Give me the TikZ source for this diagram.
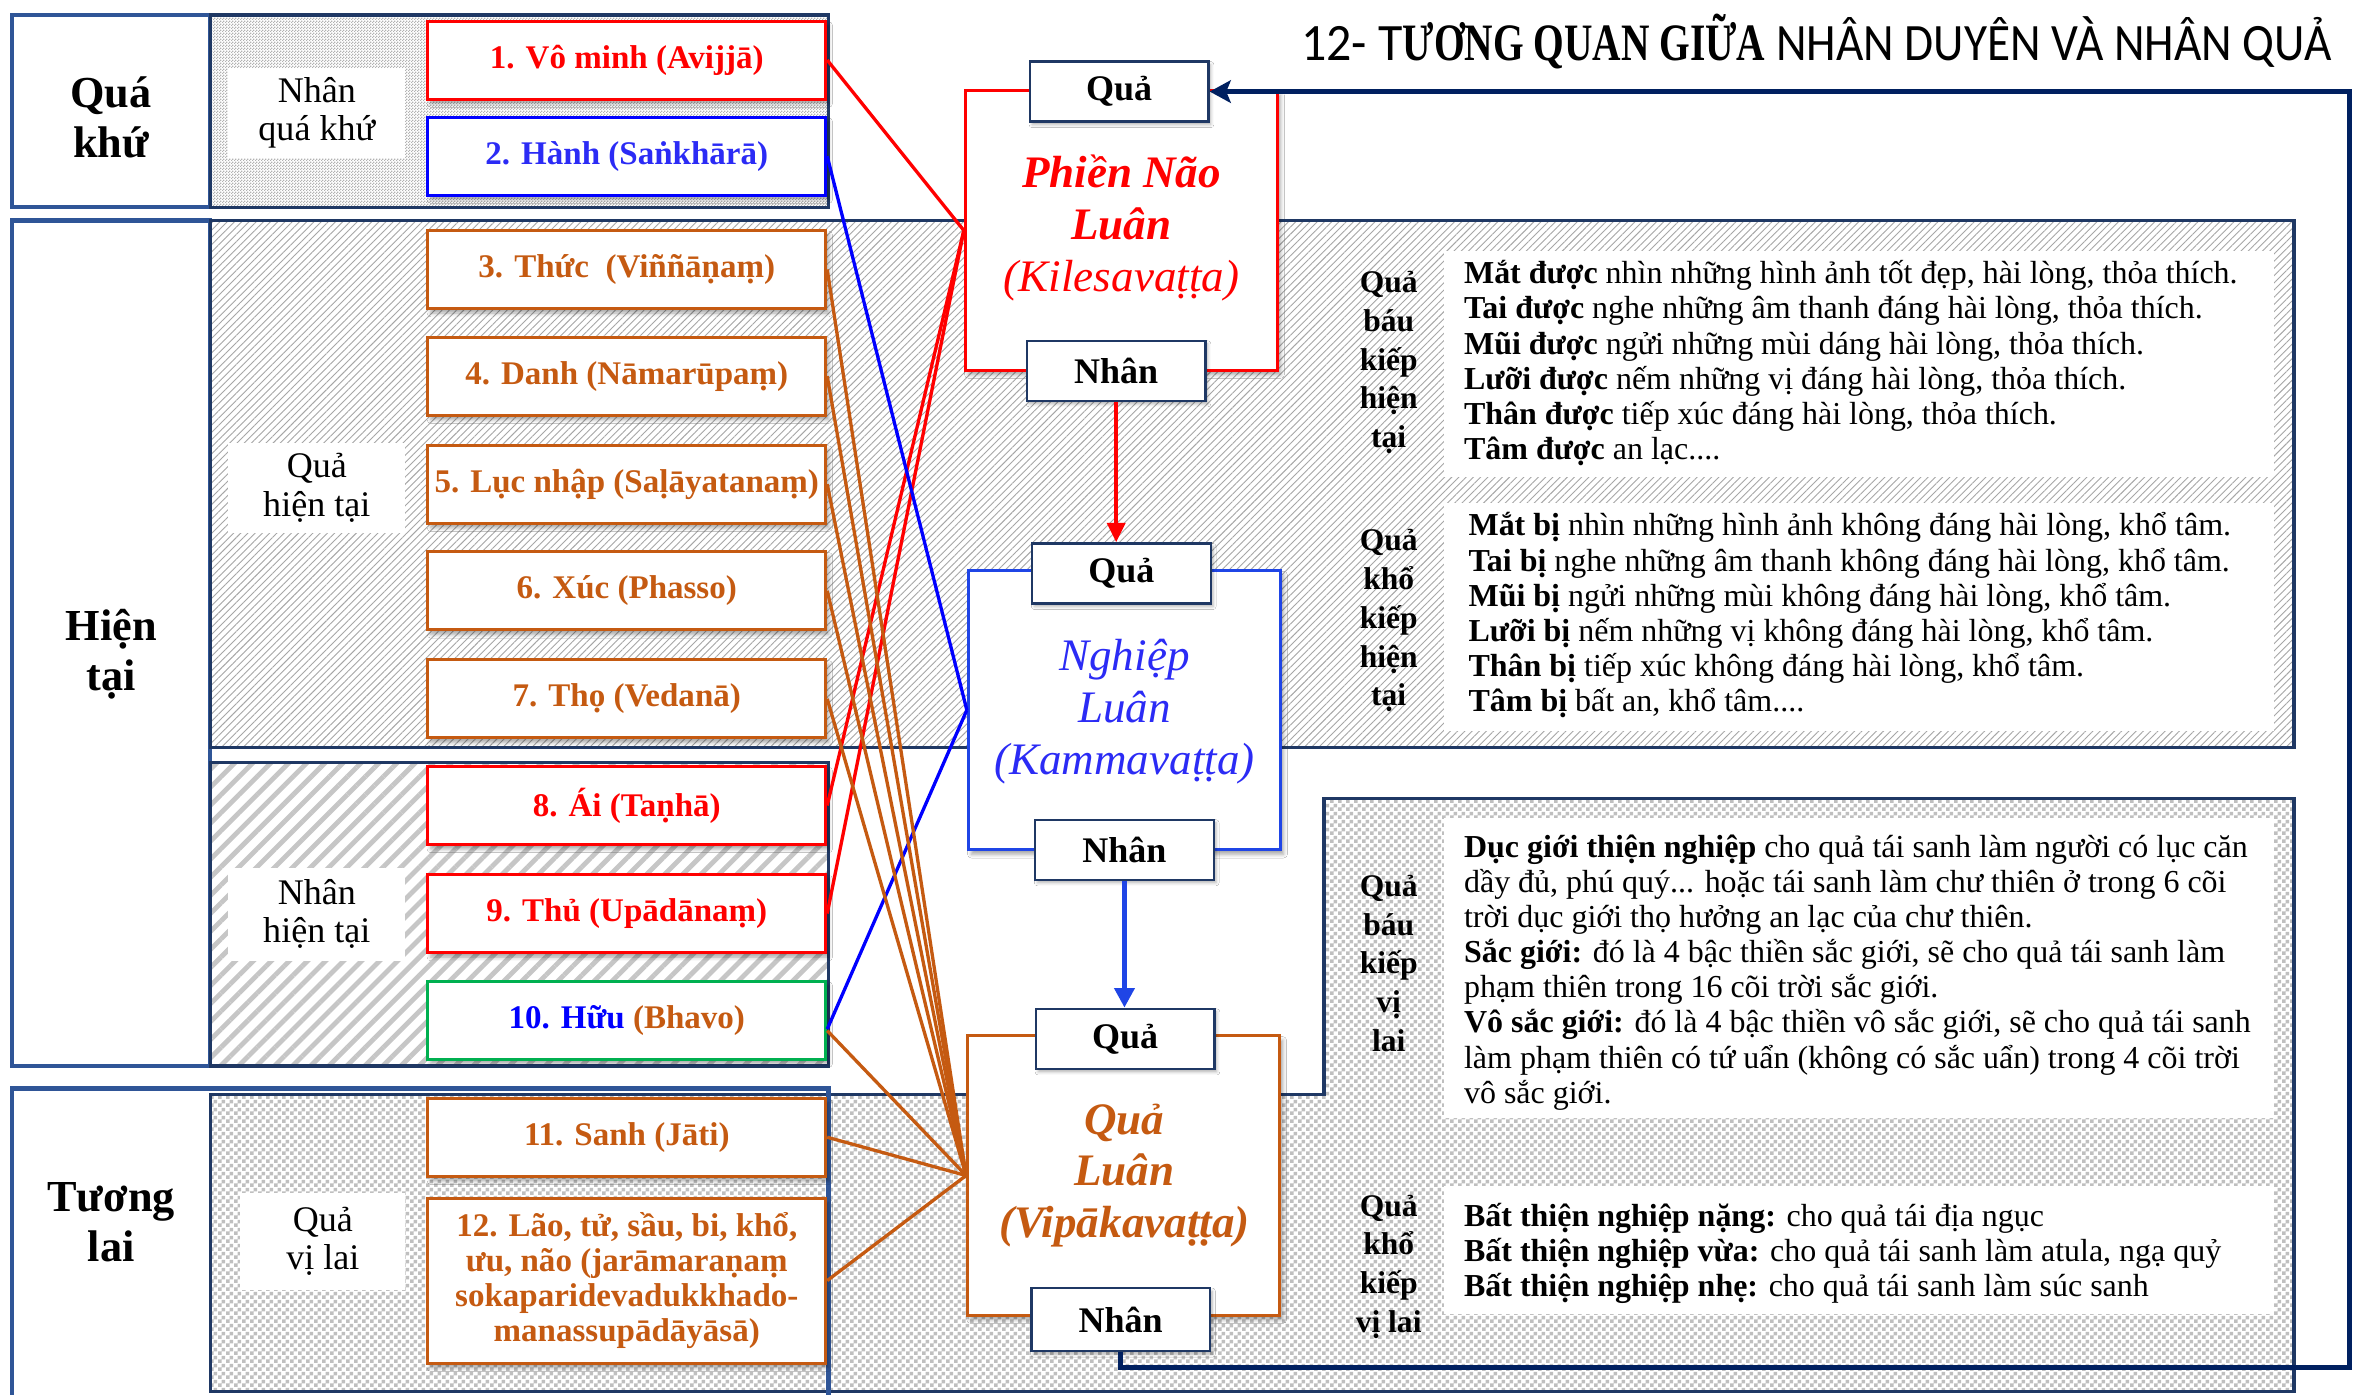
\documentclass[tikz,border=0pt]{standalone}
\usepackage{fontspec}
\setmainfont{Liberation Serif}
\newfontfamily\titlesans{Carlito}
\usetikzlibrary{patterns,patterns.meta,shadows.blur,arrows.meta}

\definecolor{navy}{HTML}{1F3864}
\definecolor{loopnavy}{HTML}{002060}
\definecolor{frameblue}{HTML}{2F5597}
\definecolor{kred}{HTML}{FF0000}
\definecolor{kblue}{HTML}{0000FF}
\definecolor{textblue}{HTML}{2B2BF5}
\definecolor{wheelblue}{HTML}{1F45E6}
\definecolor{korange}{HTML}{C55A11}
\definecolor{kgreen}{HTML}{00B050}

% small and large checker fills
\pgfdeclarepatternformonly{finechecks}{\pgfqpoint{0pt}{0pt}}{\pgfqpoint{2pt}{2pt}}{\pgfqpoint{2pt}{2pt}}{%
  \pgfpathrectangle{\pgfqpoint{0pt}{0pt}}{\pgfqpoint{1pt}{1pt}}%
  \pgfpathrectangle{\pgfqpoint{1pt}{1pt}}{\pgfqpoint{1pt}{1pt}}%
  \pgfusepath{fill}}
\pgfdeclarepatternformonly{coarsechecks}{\pgfqpoint{0pt}{0pt}}{\pgfqpoint{5pt}{5pt}}{\pgfqpoint{5pt}{5pt}}{%
  \pgfpathrectangle{\pgfqpoint{0pt}{0pt}}{\pgfqpoint{2.5pt}{2.5pt}}%
  \pgfpathrectangle{\pgfqpoint{2.5pt}{2.5pt}}{\pgfqpoint{2.5pt}{2.5pt}}%
  \pgfusepath{fill}}

% stacked lines with fixed line pitch; baseline = first line's baseline
\newcommand{\lstack}[1]{\vtop{\lineskiplimit=-1000pt\halign{##\hfil\cr#1\crcr}}}
\newcommand{\cstack}[1]{\vtop{\lineskiplimit=-1000pt\halign{\hfil##\hfil\cr#1\crcr}}}

\tikzset{
  periodframe/.style={draw=frameblue, line width=3pt},
  region/.style={draw=navy, line width=2.2pt},
  periodlabel/.style={align=center, font=\bfseries\fontsize{29.5}{33.5}\selectfont},
  labelbox/.style={fill=white, inner sep=0pt, align=center, font=\fontsize{24}{25.5}\selectfont},
  termbox/.style={draw, line width=2pt, fill=white, minimum width=265pt, minimum height=52pt,
    inner sep=0pt, align=center, font=\bfseries\fontsize{22}{23.5}\selectfont,
    blur shadow={shadow xshift=2pt, shadow yshift=-3pt, shadow blur radius=2.5pt, shadow opacity=35}},
  wheel/.style={draw, line width=2pt, fill=white, minimum width=208pt, minimum height=186pt, inner sep=0pt,
    blur shadow={shadow xshift=2pt, shadow yshift=-3pt, shadow blur radius=2.5pt, shadow opacity=35}},
  wheeltext/.style={align=center, inner sep=0pt, font=\itshape\fontsize{30}{34.5}\selectfont},
  tagbox/.style={draw=navy, line width=1.6pt, fill=white, minimum width=119pt, minimum height=40pt, inner sep=0pt,
    font=\bfseries\fontsize{24}{24}\selectfont,
    blur shadow={shadow xshift=1.5pt, shadow yshift=-2pt, shadow blur radius=2pt, shadow opacity=30}},
  sidelabel/.style={anchor=base, inner sep=0pt, font=\bfseries\fontsize{21}{25.8}\selectfont},
  paneltext/.style={anchor=base west, inner sep=0pt, font=\fontsize{21.3}{23.4}\selectfont},
  link/.style={line width=2.2pt},
  feedback/.style={draw=loopnavy, line width=3.5pt, -{Stealth[length=14pt,width=15pt,inset=3pt]}},
}

\begin{document}
\begin{tikzpicture}[x=1pt, y=-1pt]
\useasboundingbox (0,0) rectangle (1568,929);
\fill[white] (0,0) rectangle (1568,929);

% time frames: past and present
\draw[periodframe] (8,10) rectangle (140,138);
\draw[periodframe] (8,147) rectangle (140,710);

% shaded regions
\draw[region, pattern=finechecks, pattern color=gray!60] (140,10) rectangle (552,138);
\draw[region, pattern={Lines[angle=45,distance=3.4pt,line width=0.6pt]}, pattern color=gray!70]
  (140,147) rectangle (1528,498);
\draw[region, pattern={Lines[angle=45,distance=8.5pt,line width=3.2pt]}, pattern color=gray!45]
  (140,508) rectangle (552,710);
\draw[region, pattern=coarsechecks, pattern color=gray!50]
  (140,729) -- (882,729) -- (882,532) -- (1528,532) -- (1528,927) -- (140,927) -- cycle;

% time frame: future
\draw[periodframe] (8,940) -- (8,725) -- (552,725) -- (552,940);

% period names
\node[periodlabel] (pastlbl) at (74,78) {Quá\\khứ};
\node[periodlabel] (presentlbl) at (74,436) {Hiện\\tại};
\node[periodlabel] (futurelbl) at (74,814) {Tương\\lai};

% group labels
\node[labelbox, minimum width=118pt, minimum height=60pt] (grp1) at (211,75) {Nhân\\quá khứ};
\node[labelbox, minimum width=118pt, minimum height=60pt] (grp2) at (211,325) {Quả\\hiện tại};
\node[labelbox, minimum width=118pt, minimum height=62pt] (grp3) at (211,609) {Nhân\\hiện tại};
\node[labelbox, minimum width=110pt, minimum height=65pt] (grp4) at (215,827) {Quả\\vị lai};

% result panels on the right
\fill[white] (962,167) rectangle (1515,318);
\fill[white] (962,335) rectangle (1515,487);
\fill[white] (962,545) rectangle (1515,745);
\fill[white] (962,790) rectangle (1515,875);

\node[sidelabel] (side1) at (925,195) {\cstack{Quả\cr báu\cr kiếp\cr hiện\cr tại}};
\node[sidelabel] (side2) at (925,367) {\cstack{Quả\cr khổ\cr kiếp\cr hiện\cr tại}};
\node[sidelabel] (side3) at (925,597) {\cstack{Quả\cr báu\cr kiếp\cr vị\cr lai}};
\node[sidelabel] (side4) at (925,810) {\cstack{Quả\cr khổ\cr kiếp\cr vị lai}};

\node[paneltext] (text1) at (975,189) {\lstack{%
\textbf{Mắt được} nhìn những hình ảnh tốt đẹp, hài lòng, thỏa thích.\cr
\textbf{Tai được} nghe những âm thanh đáng hài lòng, thỏa thích.\cr
\textbf{Mũi được} ngửi những mùi dáng hài lòng, thỏa thích.\cr
\textbf{Lưỡi được} nếm những vị đáng hài lòng, thỏa thích.\cr
\textbf{Thân được} tiếp xúc đáng hài lòng, thỏa thích.\cr
\textbf{Tâm được} an lạc....}};
\node[paneltext] (text2) at (978,357) {\lstack{%
\textbf{Mắt bị} nhìn những hình ảnh không đáng hài lòng, khổ tâm.\cr
\textbf{Tai bị} nghe những âm thanh không đáng hài lòng, khổ tâm.\cr
\textbf{Mũi bị} ngửi những mùi không đáng hài lòng, khổ tâm.\cr
\textbf{Lưỡi bị} nếm những vị không đáng hài lòng, khổ tâm.\cr
\textbf{Thân bị} tiếp xúc không đáng hài lòng, khổ tâm.\cr
\textbf{Tâm bị} bất an, khổ tâm....}};
\node[paneltext] (text3) at (975,571) {\lstack{%
\textbf{Dục giới thiện nghiệp} cho quả tái sanh làm người có lục căn\cr
dầy đủ, phú quý... hoặc tái sanh làm chư thiên ở trong 6 cõi\cr
trời dục giới thọ hưởng an lạc của chư thiên.\cr
\textbf{Sắc giới:} đó là 4 bậc thiền sắc giới, sẽ cho quả tái sanh làm\cr
phạm thiên trong 16 cõi trời sắc giới.\cr
\textbf{Vô sắc giới:} đó là 4 bậc thiền vô sắc giới, sẽ cho quả tái sanh\cr
làm phạm thiên có tứ uẩn (không có sắc uẩn) trong 4 cõi trời\cr
vô sắc giới.}};
\node[paneltext] (text4) at (975,817) {\lstack{%
\textbf{Bất thiện nghiệp nặng:} cho quả tái địa ngục\cr
\textbf{Bất thiện nghiệp vừa:} cho quả tái sanh làm atula, ngạ quỷ\cr
\textbf{Bất thiện nghiệp nhẹ:} cho quả tái sanh làm súc sanh}};

% the twelve links
\node[termbox, draw=kred, text=kred] (b1) at (417.5,40) {1. Vô minh (Avijjā)};
\node[termbox, draw=kblue, text=textblue] (b2) at (417.5,104) {2. Hành (Saṅkhārā)};
\node[termbox, draw=korange, text=korange] (b3) at (417.5,179.5) {3. Thức~ (Viññāṇaṃ)};
\node[termbox, draw=korange, text=korange] (b4) at (417.5,250.5) {4. Danh (Nāmarūpaṃ)};
\node[termbox, draw=korange, text=korange] (b5) at (417.5,322.5) {5. Lục nhập (Saḷāyatanaṃ)};
\node[termbox, draw=korange, text=korange] (b6) at (417.5,393.5) {6. Xúc (Phasso)};
\node[termbox, draw=korange, text=korange] (b7) at (417.5,465.5) {7. Thọ (Vedanā)};
\node[termbox, draw=kred, text=kred] (b8) at (417.5,536.5) {8. Ái (Taṇhā)};
\node[termbox, draw=kred, text=kred] (b9) at (417.5,608.5) {9. Thủ (Upādānaṃ)};
\node[termbox, draw=kgreen, text=korange] (b10) at (417.5,679.5) {\textcolor{kblue}{10. Hữu} (Bhavo)};
\node[termbox, draw=korange, text=korange] (b11) at (417.5,757.5) {11. Sanh (Jāti)};
\node[termbox, draw=korange, text=korange, minimum height=110pt] (b12) at (417.5,853)
  {12. Lão, tử, sầu, bi, khổ,\\ưu, não (jarāmaraṇaṃ\\sokaparidevadukkhado-\\manassupādāyāsā)};

% the three rounds
\node[wheel, draw=kred] (pn) at (747,153.5) {};
\node[wheel, draw=wheelblue] (ng) at (749,473) {};
\node[wheel, draw=korange] (ql) at (748.5,783) {};

% links into the rounds
\draw[link, kred] (b1.east) -- (pn.west);
\draw[link, kred] (b8.east) -- (pn.west);
\draw[link, kred] (b9.east) -- (pn.west);
\draw[link, kblue] (b2.east) -- (ng.west);
\draw[link, kblue] ([yshift=-6pt]b10.east) -- (ng.west);
\foreach \b in {b3,b4,b5,b6,b7,b11,b12}
  \draw[link, korange] (\b.east) -- (ql.west);
\draw[link, korange] ([yshift=-7pt]b10.east) -- (ql.west);

% round titles
\node[wheeltext, text=kred] (pntext) at (747,152) {\textbf{Phiền Não}\\\textbf{Luân}\\(Kilesavaṭṭa)};
\node[wheeltext, text=textblue] (ngtext) at (749,474) {Nghiệp\\Luân\\(Kammavaṭṭa)};
\node[wheeltext, text=korange] (qltext) at (749,783) {\textbf{Quả}\\\textbf{Luân}\\\textbf{(Vipākavaṭṭa)}};

% result / cause tags
\node[tagbox] (pnQ) at (745.5,61) {Quả};
\node[tagbox] (pnN) at (743.5,247) {Nhân};
\node[tagbox] (ngQ) at (747,382) {Quả};
\node[tagbox] (ngN) at (749,566) {Nhân};
\node[tagbox] (qlQ) at (749.5,692) {Quả};
\node[tagbox, minimum height=42pt] (qlN) at (746.5,879) {Nhân};

% flow between the rounds
\draw[kred, line width=2.6pt, -{Triangle[length=13pt,width=12pt]}] (pnN.south) -- (pnN.south |- ngQ.north);
\draw[wheelblue, line width=3.5pt, -{Triangle[length=13pt,width=13pt]}] (ngN.south) -- (ngN.south |- qlQ.north);

% return path from the last round to the first
\coordinate (loopSE) at (1565,911);
\coordinate (loopNE) at (1565,61);
\draw[feedback] (qlN.south) |- (loopSE) -- (loopNE) -- (pnQ.east);

% heading
\node[anchor=base east, inner sep=0pt] (title) at (1553,40)
  {\titlesans\fontsize{35}{35}\selectfont\scalebox{0.95}[1]{12- T}\scalebox{0.75}[1]{\rmfamily\bfseries ƯƠNG QUAN GIỮA}\scalebox{0.9}[1]{ NHÂN DUYÊN VÀ NHÂN QUẢ}};
\end{tikzpicture}
\end{document}
